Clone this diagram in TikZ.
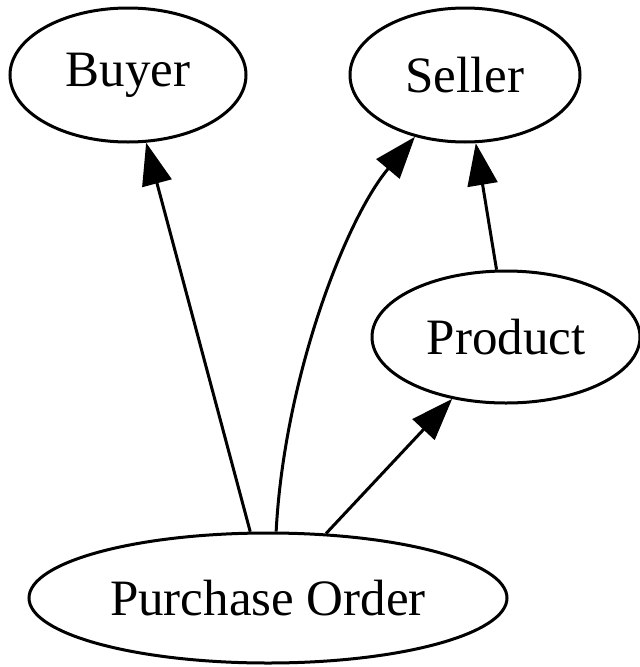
\documentclass[tikz,border=0pt]{standalone}
\usepackage{fontspec}
\setmainfont{Liberation Serif}
\usetikzlibrary{shapes.geometric,arrows.meta}
\begin{document}
\begin{tikzpicture}[x=1pt,y=-1pt,
  ent/.style={draw,ellipse,line width=3pt,inner sep=0pt,font=\fontsize{51}{56}\selectfont},
  arr/.style={line width=3pt,-{Triangle[length=42pt,width=30pt]}}]
\useasboundingbox (0,0) rectangle (640,667);
\node[ent,minimum width=236pt,minimum height=134pt] (buyer) at (128,75) {Buyer};
\node[ent,minimum width=230pt,minimum height=134pt] (seller) at (465,75) {Seller};
\node[ent,minimum width=268pt,minimum height=132pt] (product) at (506,337) {Product};
\node[ent,minimum width=478pt,minimum height=130pt] (po) at (268,598) {Purchase Order};
\draw[arr] (po.105.5) -- (buyer.285);
\draw[arr] (po.83) .. controls (284,380) and (345,220) .. (seller.231);
\draw[arr] (product.98) -- (seller.279);
\draw[arr] (po.48) -- (product.229);
\end{tikzpicture}
\end{document}
